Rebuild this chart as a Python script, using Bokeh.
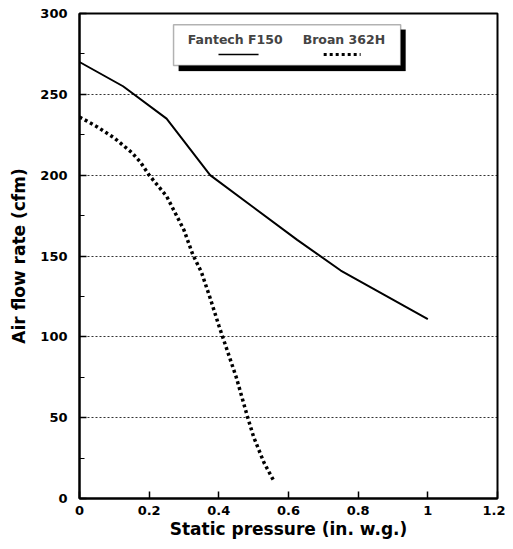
from bokeh.plotting import figure
from bokeh.models import Range1d, FixedTicker, CustomJSTickFormatter, BoxAnnotation, Label, Arrow
from bokeh.embed import file_html
from bokeh.resources import INLINE

# Data
fantech_x = [0.0, 0.125, 0.25, 0.375, 0.5, 0.625, 0.75, 1.0]
fantech_y = [270, 255, 235, 200, 180, 160, 141, 111]
broan_x = [0.0, 0.05, 0.1, 0.15, 0.175, 0.2, 0.25, 0.3, 0.325, 0.35, 0.375, 0.4, 0.45, 0.483, 0.5, 0.53, 0.56]
broan_y = [236, 230, 223, 214, 208, 200, 187, 166, 151, 140, 124, 107, 75, 50, 38, 22, 10]
x_ticks = [0, 0.2, 0.4, 0.6, 0.8, 1.0, 1.2]
y_ticks = [0, 50, 100, 150, 200, 250, 300]
y_minor = [25, 75, 125, 175, 225, 275]
grid_ticks = [50, 100, 150, 200, 250]
series_names = ["Fantech F150", "Broan 362H"]

FONT = "DejaVu Sans"

p = figure(width=505, height=541, output_backend="svg", toolbar_location=None,
           x_range=Range1d(0, 1.2), y_range=Range1d(0, 300),
           min_border_left=79, min_border_right=8, min_border_top=13, min_border_bottom=43)
p.background_fill_color = "white"
p.border_fill_color = "white"
p.outline_line_color = "black"
p.outline_line_width = 2

p.line(fantech_x, fantech_y, line_color="black", line_width=2)
p.line(broan_x, broan_y, line_color="black", line_width=3.5, line_dash="3 3")

# Axes
p.xaxis.ticker = FixedTicker(ticks=x_ticks)
p.xaxis.formatter = CustomJSTickFormatter(code="return tick.toFixed(1).replace(/\\.0$/, '');")
p.yaxis.ticker = FixedTicker(ticks=y_ticks, minor_ticks=y_minor)
for ax in (p.xaxis, p.yaxis):
    ax.axis_line_color = "black"
    ax.axis_line_width = 2
    ax.major_tick_in = 7
    ax.major_tick_out = 0
    ax.major_tick_line_width = 1.5
    ax.major_label_text_font = FONT
    ax.major_label_text_font_style = "bold"
    ax.major_label_text_font_size = "13px"
    ax.major_label_text_color = "black"
    ax.axis_label_text_font = FONT
    ax.axis_label_text_font_style = "bold"
    ax.axis_label_text_font_size = "17px"
    ax.axis_label_text_color = "black"
p.xaxis.minor_tick_line_color = None
p.yaxis.minor_tick_in = 5
p.yaxis.minor_tick_out = 0
p.yaxis.minor_tick_line_width = 1.2
p.xaxis.major_label_standoff = 7
p.yaxis.major_label_standoff = 12
p.xaxis.axis_label = "Static pressure (in. w.g.)"
p.yaxis.axis_label = "Air flow rate (cfm)"
p.xaxis.axis_label_standoff = 1
p.yaxis.axis_label_standoff = 8

# Grid
p.xgrid.grid_line_color = None
p.ygrid.ticker = FixedTicker(ticks=grid_ticks)
p.ygrid.grid_line_color = "black"
p.ygrid.grid_line_width = 1.2
p.ygrid.grid_line_dash = "2 2"
p.ygrid.grid_line_alpha = 0.8

# Custom legend box with shadow
p.add_layout(BoxAnnotation(left=0.285, right=0.936, bottom=264.5, top=290,
                           fill_color="black", fill_alpha=1, line_color="black"))
p.add_layout(BoxAnnotation(left=0.270, right=0.922, bottom=267.8, top=293.1,
                           fill_color="white", fill_alpha=1, line_color="black", line_width=1.5))
p.add_layout(Label(x=0.447, y=283.9, text=series_names[0], text_font=FONT, text_font_style="bold",
                   text_font_size="12.5px", text_align="center", text_baseline="middle"))
p.add_layout(Label(x=0.759, y=283.9, text=series_names[1], text_font=FONT, text_font_style="bold",
                   text_font_size="12.5px", text_align="center", text_baseline="middle"))
p.add_layout(Arrow(end=None, x_start=0.399, y_start=274.6, x_end=0.514, y_end=274.6,
                   line_color="black", line_width=1.5))
p.add_layout(Arrow(end=None, x_start=0.701, y_start=274.6, x_end=0.807, y_end=274.6,
                   line_color="black", line_width=3, line_dash="3 3"))

open("out.html", "w").write(file_html(p, INLINE))
